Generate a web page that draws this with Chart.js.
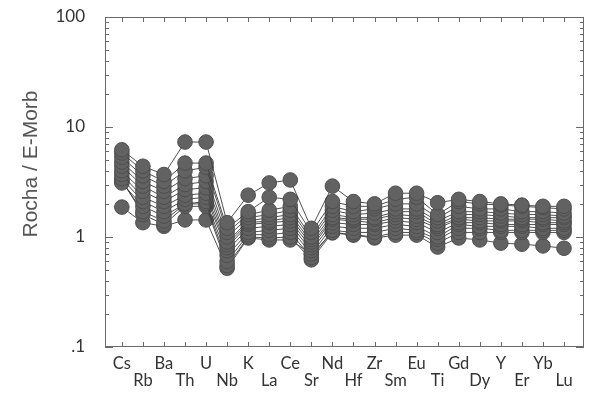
<!DOCTYPE html>
<html>
<head>
<meta charset="utf-8">
<script src="https://cdn.jsdelivr.net/npm/chart.js@4/dist/chart.umd.min.js"></script>
<style>
  html, body { margin: 0; padding: 0; background: #ffffff; }
  #wrap { width: 596px; height: 393px; }
</style>
</head>
<body>
<div id="wrap"><canvas id="spider" width="596" height="393"></canvas></div>
<script>
// Elements of the multi-element diagram, in plotting order
const elements = ['Cs','Rb','Ba','Th','U','Nb','K','La','Ce','Sr','Nd','Hf','Zr','Sm','Eu','Ti','Gd','Dy','Y','Er','Yb','Lu'];

// Decade ticks of the log axis and their printed labels
const yTickValues = [0.1, 1, 10, 100];
const yTickLabels = ['.1', '1', '10', '100'];

// Rock / E-MORB normalised values, one array per sample
const sample01 = [6.2, 4.4, 3.7, 7.3, 7.3, 1.35, 2.4, 3.1, 3.3, 1.2, 2.9, 2.1, 2.0, 2.5, 2.5, 2.05, 2.2, 2.1, 2.0, 1.95, 1.9, 1.9];
const sample02 = [5.8, 4.0, 3.2, 4.7, 4.7, 1.2, 1.7, 2.3, 2.2, 1.1, 2.1, 1.9, 1.9, 2.2, 2.3, 1.6, 2.1, 2.0, 1.95, 1.9, 1.85, 1.8];
const sample03 = [5.3, 3.6, 2.9, 4.0, 4.3, 1.1, 1.6, 1.75, 1.9, 1.0, 1.9, 1.7, 1.8, 2.0, 2.0, 1.5, 1.9, 1.8, 1.8, 1.7, 1.7, 1.65];
const sample04 = [4.8, 3.2, 2.6, 3.4, 3.6, 1.0, 1.5, 1.6, 1.75, 0.95, 1.75, 1.6, 1.65, 1.8, 1.8, 1.4, 1.7, 1.7, 1.65, 1.6, 1.6, 1.55];
const sample05 = [4.4, 2.9, 2.3, 3.0, 3.2, 0.9, 1.4, 1.5, 1.6, 0.9, 1.6, 1.5, 1.5, 1.7, 1.7, 1.3, 1.6, 1.6, 1.55, 1.5, 1.5, 1.5];
const sample06 = [4.0, 2.6, 2.1, 2.7, 2.8, 0.85, 1.35, 1.4, 1.5, 0.85, 1.5, 1.45, 1.45, 1.6, 1.55, 1.25, 1.5, 1.5, 1.45, 1.45, 1.45, 1.4];
const sample07 = [3.7, 2.3, 1.9, 2.4, 2.5, 0.8, 1.3, 1.35, 1.4, 0.8, 1.45, 1.4, 1.35, 1.5, 1.45, 1.2, 1.45, 1.4, 1.4, 1.4, 1.35, 1.35];
const sample08 = [3.4, 2.1, 1.7, 2.2, 2.3, 0.75, 1.2, 1.25, 1.3, 0.75, 1.35, 1.3, 1.3, 1.4, 1.35, 1.1, 1.35, 1.35, 1.3, 1.3, 1.3, 1.3];
const sample09 = [3.1, 1.9, 1.55, 2.0, 2.1, 0.68, 1.1, 1.15, 1.2, 0.7, 1.25, 1.2, 1.2, 1.3, 1.25, 1.0, 1.3, 1.25, 1.25, 1.25, 1.2, 1.2];
const sample10 = [3.2, 1.7, 1.4, 2.0, 2.0, 0.6, 1.05, 1.05, 1.1, 0.65, 1.15, 1.1, 1.1, 1.2, 1.15, 0.95, 1.2, 1.2, 1.15, 1.15, 1.15, 1.15];
const sample11 = [3.3, 1.6, 1.3, 1.9, 1.9, 0.55, 1.0, 0.98, 1.0, 0.62, 1.1, 1.05, 1.0, 1.1, 1.1, 0.88, 1.1, 1.1, 1.1, 1.1, 1.1, 1.1];
const sample12 = [1.87, 1.35, 1.25, 1.43, 1.43, 0.52, 0.98, 0.94, 0.94, 0.7, 1.09, 1.04, 0.98, 1.04, 1.04, 0.81, 0.98, 0.94, 0.88, 0.86, 0.83, 0.79];

const samples = [sample01, sample02, sample03, sample04, sample05, sample06,
                 sample07, sample08, sample09, sample10, sample11, sample12];

const datasets = samples.map((vals, k) => ({
  label: 'sample ' + (k + 1),
  data: vals.map((v, i) => ({ x: i, y: v })),
  borderColor: '#3c3c3c',
  borderWidth: 0.9,
  pointRadius: 7.3,
  pointBackgroundColor: '#626262',
  pointBorderColor: '#4e4e4e',
  pointBorderWidth: 1,
  tension: 0
}));

// Frame around the plot with inward tick marks on all four sides
const frameTicks = {
  id: 'frameTicks',
  afterDraw(chart) {
    const { ctx, chartArea: a, scales } = chart;
    const xs = scales.x, ys = scales.y;
    ctx.save();
    ctx.strokeStyle = '#6a6a6a';
    ctx.lineWidth = 1;
    ctx.strokeRect(a.left + 0.5, a.top + 0.5, a.right - a.left - 1, a.bottom - a.top - 1);
    ctx.beginPath();
    elements.forEach((_, i) => {
      const px = Math.round(xs.getPixelForValue(i)) + 0.5;
      ctx.moveTo(px, a.bottom); ctx.lineTo(px, a.bottom - 5);
      ctx.moveTo(px, a.top); ctx.lineTo(px, a.top + 5);
    });
    for (let d = 0; d < yTickValues.length; d++) {
      const base = yTickValues[d];
      for (let m = 1; m <= 9; m++) {
        const v = base * m;
        if (v > yTickValues[yTickValues.length - 1]) break;
        const py = Math.round(ys.getPixelForValue(v)) + 0.5;
        const len = m === 1 ? 8 : 4;
        ctx.moveTo(a.left, py); ctx.lineTo(a.left + len, py);
        ctx.moveTo(a.right, py); ctx.lineTo(a.right - len, py);
      }
    }
    ctx.stroke();
    ctx.restore();
  }
};

// Rotated y-axis caption
const yCaption = {
  id: 'yCaption',
  afterDraw(chart) {
    const { ctx } = chart;
    ctx.save();
    ctx.translate(31, 164);
    ctx.rotate(-Math.PI / 2);
    ctx.font = '21px "Liberation Sans", Arial, sans-serif';
    ctx.fillStyle = '#555555';
    ctx.textAlign = 'center';
    ctx.textBaseline = 'middle';
    ctx.fillText('Rocha / E-Morb', 0, 0);
    ctx.restore();
  }
};

new Chart(document.getElementById('spider'), {
  type: 'line',
  data: { datasets },
  options: {
    responsive: false,
    animation: false,
    devicePixelRatio: 1,
    layout: { padding: { left: 0, right: 12, top: 17, bottom: 0 } },
    plugins: { legend: { display: false }, tooltip: { enabled: false } },
    scales: {
      x: {
        type: 'linear',
        min: -0.8,
        max: 21.95,
        afterBuildTicks: (s) => { s.ticks = elements.map((_, i) => ({ value: i })); },
        afterFit: (s) => { s.height = 46; s.paddingLeft = 0; s.paddingRight = 0; },
        grid: { display: false },
        border: { display: false },
        ticks: {
          autoSkip: false,
          maxRotation: 0,
          minRotation: 0,
          padding: 0,
          color: '#333333',
          font: { family: 'Lato, "DejaVu Sans", sans-serif', size: 16.5, lineHeight: 1.05 },
          callback: (v) => (v % 2 === 1 ? ['', elements[v]] : elements[v])
        }
      },
      y: {
        type: 'logarithmic',
        min: yTickValues[0],
        max: yTickValues[yTickValues.length - 1],
        afterBuildTicks: (s) => { s.ticks = yTickValues.map(v => ({ value: v })); },
        afterFit: (s) => { s.width = 105; s.paddingTop = 0; s.paddingBottom = 0; },
        grid: { display: false },
        border: { display: false },
        ticks: {
          padding: 12,
          color: '#333333',
          font: { family: 'Lato, "DejaVu Sans", sans-serif', size: 17 },
          callback: (v) => { const i = yTickValues.indexOf(v); return i >= 0 ? yTickLabels[i] : ''; }
        }
      }
    }
  },
  plugins: [frameTicks, yCaption]
});
</script>
</body>
</html>
